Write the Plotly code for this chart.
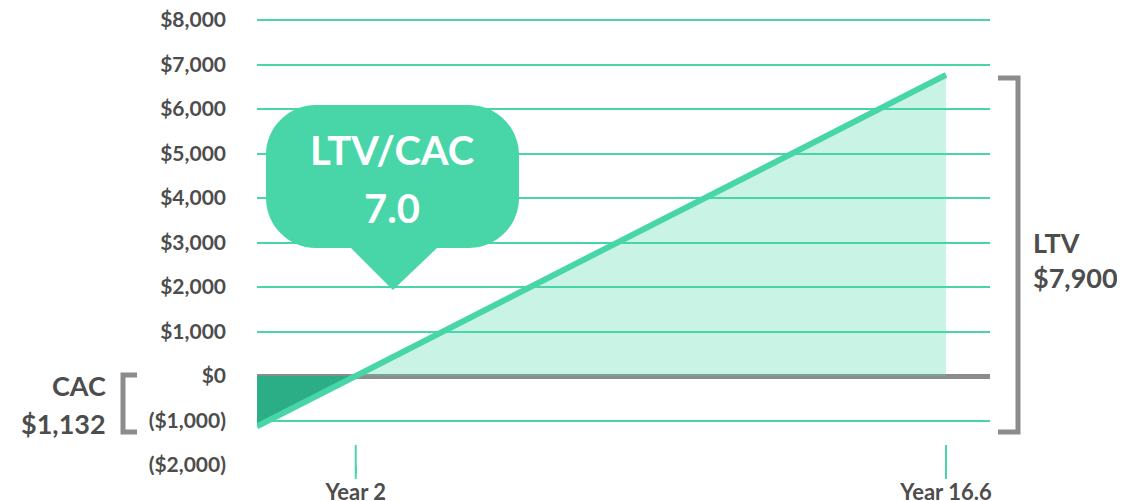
import plotly.graph_objects as go

# values
cac = 1132
ltv = 7900
lifetime_years = 16.6
ratio_text = "7.0"

years = [0, lifetime_years]
cum_value = [-cac, ltv - cac]
y_ticks = [-2000, -1000, 0, 1000, 2000, 3000, 4000, 5000, 6000, 7000, 8000]

# break-even point (where the line crosses $0)
payback = lifetime_years * cac / ltv
x_ticks = [payback, lifetime_years]
x_labels = ["Year 2", "Year 16.6"]


def money(v):
    s = "${:,.0f}".format(abs(v))
    return "(" + s + ")" if v < 0 else s


GREEN = "#48D6A9"
DARK = "#2BAE85"
GRAY = "#8C8C8C"
TEXT = "#4D4D4D"
FONT = "Lato"

# the page body has an 8px margin, so the figure is shrunk to fit the window
OFF = 8
FIG_W, FIG_H = 1125 - OFF, 501 - OFF
# plot area in window pixels
L, T, W, H = 257, 19, 733, 446


def px(x, y):
    return "%.4f,%.4f" % ((x - L) / W, (T + H - y) / H)


fig = go.Figure()

# dark fill below zero (CAC)
fig.add_trace(go.Scatter(x=[years[0], payback], y=[cum_value[0], 0], mode="none",
                         fill="tozeroy", fillcolor=DARK, hoverinfo="skip"))
# light fill above zero (LTV)
fig.add_trace(go.Scatter(x=[payback, years[1]], y=[0, cum_value[1]], mode="none",
                         fill="tozeroy", fillcolor="rgba(72,214,169,0.3)", hoverinfo="skip"))
# main line
fig.add_trace(go.Scatter(x=years, y=cum_value, mode="lines",
                         line=dict(color=GREEN, width=6)))

shapes = []

# tick crosses through the bottom gridline
for xv in x_ticks:
    shapes.append(dict(type="line", xref="x", yref="paper", x0=xv, x1=xv,
                       y0=(T + H - 445) / H, y1=(T + H - 479) / H,
                       line=dict(color=GREEN, width=2)))


def corner(sx, sy, cx, cy, ex, ey):
    k = 0.552
    c1 = (sx + k * (cx - sx), sy + k * (cy - sy))
    c2 = (ex + k * (cx - ex), ey + k * (cy - ey))
    return " C" + px(*c1) + " " + px(*c2) + " " + px(ex, ey)


# speech bubble
bl, br, bt, bb, r = 266, 519, 105, 248, 50
path = "M" + px(bl + r, bt) + " L" + px(br - r, bt)
path += corner(br - r, bt, br, bt, br, bt + r)
path += " L" + px(br, bb - r)
path += corner(br, bb - r, br, bb, br - r, bb)
path += " L" + px(437, bb) + " L" + px(393, 290) + " L" + px(351, bb)
path += " L" + px(bl + r, bb)
path += corner(bl + r, bb, bl, bb, bl, bb - r)
path += " L" + px(bl, bt + r)
path += corner(bl, bt + r, bl, bt, bl + r, bt)
path += " Z"
shapes.append(dict(type="path", xref="paper", yref="paper", path=path,
                   fillcolor=GREEN, line=dict(width=0)))

# left bracket (CAC)
shapes.append(dict(type="path", xref="paper", yref="paper",
                   path="M" + px(137, 375) + " L" + px(123, 375) + " L" + px(123, 432) + " L" + px(137, 432),
                   line=dict(color=GRAY, width=5)))
# right bracket (LTV)
shapes.append(dict(type="path", xref="paper", yref="paper",
                   path="M" + px(998, 78) + " L" + px(1018, 78) + " L" + px(1018, 432) + " L" + px(998, 432),
                   line=dict(color=GRAY, width=5)))


def ann(text, x, y, size, color=TEXT, xanchor="center"):
    return dict(text=text, xref="paper", yref="paper",
                x=(x - L) / W, y=(T + H - y) / H, xanchor=xanchor, yanchor="middle",
                showarrow=False, font=dict(family=FONT, size=size, color=color, weight="bold"))


annotations = [
    ann("LTV/CAC", 392, 150, 40, "white"),
    ann(ratio_text, 392, 208, 40, "white"),
    ann("CAC", 108, 385, 27, xanchor="right"),
    ann(money(cac), 108, 423, 27, xanchor="right"),
    ann("LTV", 1031, 242, 27, xanchor="left"),
    ann(money(ltv), 1031, 277, 27, xanchor="left"),
]

fig.update_layout(
    width=FIG_W, height=FIG_H,
    margin=dict(l=L - OFF, r=FIG_W - (L - OFF) - W, t=T - OFF, b=FIG_H - (T - OFF) - H),
    paper_bgcolor="white", plot_bgcolor="white",
    showlegend=False,
    shapes=shapes, annotations=annotations,
    font=dict(family=FONT, color=TEXT),
    xaxis=dict(range=[0, lifetime_years * (W / (946 - L))], tickvals=x_ticks, ticktext=x_labels,
               showgrid=False, zeroline=False, showline=False, automargin=False,
               ticks="outside", ticklen=8, tickwidth=2, tickcolor=GREEN,
               ticklabeloverflow="allow",
               tickfont=dict(family=FONT, size=22, color=TEXT, weight="bold")),
    yaxis=dict(range=[-2000, 8025], tickvals=y_ticks, ticktext=[money(v) for v in y_ticks],
               showgrid=True, gridcolor=GREEN, gridwidth=2,
               zeroline=True, zerolinecolor=GRAY, zerolinewidth=5,
               showline=False, automargin=False, ticklabelstandoff=30,
               ticklabeloverflow="allow",
               tickfont=dict(family=FONT, size=21, color=TEXT, weight="bold")),
)

fig.write_html("out.html")
